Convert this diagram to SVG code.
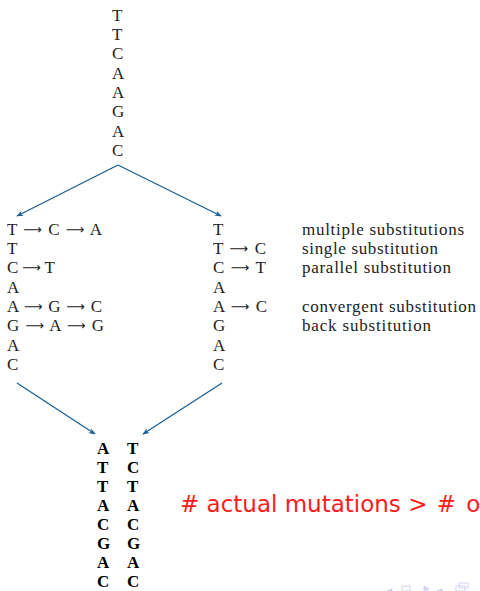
<svg xmlns="http://www.w3.org/2000/svg" width="480" height="591" viewBox="0 0 480 591">
<style>
.s{font-family:"Liberation Serif","DejaVu Serif",serif;font-size:17px;fill:#222}
.a{font-family:"DejaVu Sans","DejaVu Serif",sans-serif;font-size:13px;baseline-shift:1.5px}
.b{font-family:"Liberation Serif","DejaVu Serif",serif;font-size:17px;font-weight:bold;fill:#000}
.r{font-family:"DejaVu Sans","Liberation Sans",sans-serif;font-size:23px;fill:#ff1a1a}
.c{stroke:#1a5f96;stroke-width:1.3;fill:none;marker-end:url(#ah)}
</style>
<defs>
<marker id="ah" viewBox="0 0 10 10" refX="9" refY="5" markerWidth="7" markerHeight="7" orient="auto" markerUnits="userSpaceOnUse">
<path d="M0,1 L10,5 L0,9 L3,5 Z" fill="#1a5f96"/>
</marker>
</defs>
<g id="root">
<text class="s" x="112" y="21">T</text>
<text class="s" x="112" y="40">T</text>
<text class="s" x="112" y="59">C</text>
<text class="s" x="112" y="79">A</text>
<text class="s" x="112" y="98">A</text>
<text class="s" x="112" y="117">G</text>
<text class="s" x="112" y="137">A</text>
<text class="s" x="112" y="156">C</text>
</g>
<g id="left">
<text class="s" x="7" y="235" textLength="95" lengthAdjust="spacing">T <tspan class="a">⟶</tspan> C <tspan class="a">⟶</tspan> A</text>
<text class="s" x="7" y="254">T</text>
<text class="s" x="7" y="273" textLength="48" lengthAdjust="spacing">C <tspan class="a">⟶</tspan> T</text>
<text class="s" x="7" y="293">A</text>
<text class="s" x="7" y="312" textLength="95" lengthAdjust="spacing">A <tspan class="a">⟶</tspan> G <tspan class="a">⟶</tspan> C</text>
<text class="s" x="7" y="331" textLength="97" lengthAdjust="spacing">G <tspan class="a">⟶</tspan> A <tspan class="a">⟶</tspan> G</text>
<text class="s" x="7" y="351">A</text>
<text class="s" x="7" y="370">C</text>
</g>
<g id="right">
<text class="s" x="213" y="235">T</text>
<text class="s" x="213" y="254" textLength="53" lengthAdjust="spacing">T <tspan class="a">⟶</tspan> C</text>
<text class="s" x="213" y="273" textLength="53" lengthAdjust="spacing">C <tspan class="a">⟶</tspan> T</text>
<text class="s" x="213" y="293">A</text>
<text class="s" x="213" y="312" textLength="54" lengthAdjust="spacing">A <tspan class="a">⟶</tspan> C</text>
<text class="s" x="213" y="331">G</text>
<text class="s" x="213" y="351">A</text>
<text class="s" x="213" y="370">C</text>
</g>
<g id="labels">
<text class="s" x="302" y="235" textLength="162" lengthAdjust="spacing">multiple substitutions</text>
<text class="s" x="302" y="254" textLength="136" lengthAdjust="spacing">single substitution</text>
<text class="s" x="302" y="273" textLength="149" lengthAdjust="spacing">parallel substitution</text>
<text class="s" x="302" y="312" textLength="174" lengthAdjust="spacing">convergent substitution</text>
<text class="s" x="302" y="331" textLength="129" lengthAdjust="spacing">back substitution</text>
</g>
<g id="result">
<text class="b" x="97" y="454">A</text><text class="b" x="127" y="454">T</text>
<text class="b" x="97" y="473">T</text><text class="b" x="127" y="473">C</text>
<text class="b" x="97" y="492">T</text><text class="b" x="127" y="492">T</text>
<text class="b" x="97" y="511">A</text><text class="b" x="127" y="511">A</text>
<text class="b" x="97" y="530">C</text><text class="b" x="127" y="530">C</text>
<text class="b" x="97" y="549">G</text><text class="b" x="127" y="549">G</text>
<text class="b" x="97" y="568">A</text><text class="b" x="127" y="568">A</text>
<text class="b" x="97" y="587">C</text><text class="b" x="127" y="587">C</text>
</g>
<g id="note">
<text class="r" x="180" y="512"># actual mutations &gt;<tspan dx="2"> #</tspan><tspan dx="3"> o</tspan></text>
</g>
<g id="connectors">
<path class="c" d="M118,165 L17,216"/>
<path class="c" d="M118,165 L221,216"/>
<path class="c" d="M17,383 L95,434"/>
<path class="c" d="M222,383 L143,434"/>
</g>
<g id="nav" fill="#d8d8f0" stroke="#c8c8ec" stroke-width="0.8">
<path d="M392,589 L387,591 L392,591 Z"/>
<rect x="402" y="586" width="8" height="5" fill="none"/>
<path d="M424,586 L429,589 L424,591 Z"/>
<path d="M442,589 L437,591 L442,591 Z"/>
<rect x="456" y="586" width="9" height="5" fill="none"/>
<rect x="459" y="583" width="9" height="5" fill="none"/>
</g>
</svg>
